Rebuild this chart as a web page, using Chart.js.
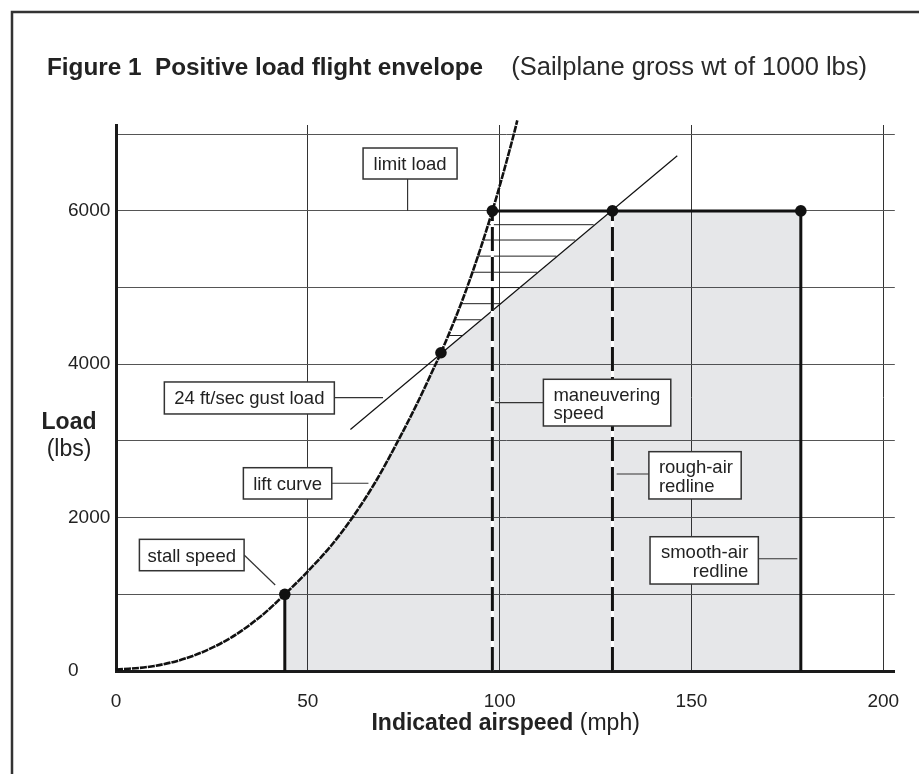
<!DOCTYPE html>
<html><head><meta charset="utf-8">
<script src="https://cdn.jsdelivr.net/npm/chart.js@4.4.1/dist/chart.umd.min.js"></script>
<style>html,body{margin:0;padding:0;background:#fff;}canvas{display:block;}</style>
</head><body>
<canvas id="c" width="919" height="774"></canvas>
<script>
// ---------------- data ----------------
const xGridValues = [0, 50, 100, 150, 200];
const xTickLabels = [0, 50, 100, 150, 200];
const yGridValues = [0, 1000, 2000, 3000, 4000, 5000, 6000, 7000];
const yTickLabels = [0, 2000, 4000, 6000];

// lift curve (mph, lbs)
const liftSpeed = [0, 10, 20, 30, 38, 44, 50, 56, 61.6, 67.5, 73.5, 78.6, 83.3, 84.7, 91.5, 98.1, 103.7, 104.6];
const liftLoad  = [16, 66, 196, 436, 724, 1000, 1300, 1630, 2000, 2455, 3000, 3500, 4000, 4150, 5000, 6000, 7000, 7180];

// 24 ft/sec gust load line
const gustSpeed = [61.1, 146.3];
const gustLoad  = [3150, 6720];

// key points: stall, gust/lift intersection, maneuvering, rough-air redline, smooth-air redline
const keySpeed = [44, 84.7, 98.1, 129.4, 178.5];
const keyLoad  = [1000, 4150, 6000, 6000, 6000];

// hatch lines between lift curve and gust line
const hatchLoad = [4375, 4580, 4790, 5000, 5200, 5410, 5620, 5820];
const hatchFrom = [86.5, 88.1, 89.8, 91.4, 92.8, 94.2, 95.6, 96.9];
const hatchTo   = [90.3, 95.1, 100.1, 105.1, 109.8, 114.8, 119.7, 124.5];

// ---------------- build datasets ----------------
const FONT = '"Liberation Sans", Arial, Helvetica, sans-serif';
const pts = (xs, ys) => xs.map((x, i) => ({x, y: ys[i]}));
const [stallV, gustV, manV, roughV, smoothV] = keySpeed;
const [stallL, gustL, manL, roughL, smoothL] = keyLoad;

const liftPts = pts(liftSpeed, liftLoad);
const envelope = liftPts.filter(p => p.x >= stallV && p.x <= gustV)
  .concat([{x: roughV, y: roughL}, {x: smoothV, y: smoothL}]);

const FILL = 'rgba(47,55,72,0.12)';
const datasets = [];
datasets.push({data: envelope, showLine: true, borderWidth: 0, borderColor: 'rgba(0,0,0,0)', pointRadius: 0, fill: 'origin', backgroundColor: FILL, tension: 0, order: 20});
hatchLoad.forEach((y, i) => datasets.push({data: [{x: hatchFrom[i], y}, {x: hatchTo[i], y}], showLine: true, borderColor: '#222', borderWidth: 1, pointRadius: 0, order: 15}));
datasets.push({data: pts(gustSpeed, gustLoad), showLine: true, borderColor: '#111', borderWidth: 1.2, pointRadius: 0, order: 14});
// white under the dashed lines
[manV, roughV].forEach(v => datasets.push({data: [{x: v, y: 0}, {x: v, y: manL}], showLine: true, borderColor: '#fff', borderWidth: 3, pointRadius: 0, order: 12}));
[manV, roughV].forEach(v => datasets.push({data: [{x: v, y: 0}, {x: v, y: manL}], showLine: true, borderColor: '#111', borderWidth: 3, borderDash: [24, 6], borderCapStyle: 'butt', pointRadius: 0, order: 11}));
datasets.push({data: [{x: stallV, y: 0}, {x: stallV, y: stallL}], showLine: true, borderColor: '#111', borderWidth: 3, pointRadius: 0, order: 10});
datasets.push({data: [{x: smoothV, y: 0}, {x: smoothV, y: smoothL}], showLine: true, borderColor: '#111', borderWidth: 3, pointRadius: 0, order: 10});
datasets.push({data: [{x: manV, y: manL}, {x: smoothV, y: smoothL}], showLine: true, borderColor: '#111', borderWidth: 3, pointRadius: 0, order: 10});
datasets.push({data: liftPts, showLine: true, borderColor: '#111', borderWidth: 2.6, borderDash: [7, 1], pointRadius: 0, cubicInterpolationMode: 'monotone', clip: 6, order: 5});
datasets.push({data: pts(keySpeed, keyLoad), showLine: false, pointRadius: 5.8, pointBackgroundColor: '#111', pointBorderColor: '#111', pointBorderWidth: 0, order: 1});

// ---------------- annotation boxes (anchored in data units) ----------------
const notes = [
  {lines: ['limit load'], x: 64.4, y: 6820, w: 94, h: 31, align: 'center', leader: [[76, 6416], [76, 6000]]},
  {lines: ['24 ft/sec gust load'], x: 12.6, y: 3769, w: 170, h: 32, align: 'center', leader: [[56.8, 3566], [69.6, 3566]]},
  {lines: ['lift curve'], x: 33.2, y: 2651, w: 88.4, h: 31.3, align: 'center', leader: [[56.25, 2448], [65.8, 2448]]},
  {lines: ['stall speed'], x: 6.1, y: 1717, w: 104.7, h: 31.4, align: 'center', leader: [[33.4, 1513], [41.5, 1121]]},
  {lines: ['maneuvering', 'speed'], x: 111.4, y: 3804, w: 127.4, h: 46.7, align: 'left', leader: [[98.8, 3499], [111.4, 3499]]},
  {lines: ['rough-air', 'redline'], x: 138.9, y: 2860, w: 92.3, h: 47.3, align: 'left', leader: [[130.5, 2569], [138.9, 2569]]},
  {lines: ['smooth-air', 'redline'], x: 139.2, y: 1751, w: 108.3, h: 47.3, align: 'right', leader: [[167.3, 1464], [177.6, 1464]]}
];

const decor = {
  id: 'decor',
  beforeDraw(chart) {
    const ctx = chart.ctx;
    ctx.save();
    ctx.fillStyle = '#fff';
    ctx.fillRect(0, 0, chart.width, chart.height);
    ctx.strokeStyle = '#333';
    ctx.lineWidth = 2.5;
    ctx.beginPath();
    ctx.moveTo(12, chart.height);
    ctx.lineTo(12, 12);
    ctx.lineTo(chart.width, 12);
    ctx.stroke();
    ctx.restore();
  },
  afterDraw(chart) {
    const ctx = chart.ctx, xs = chart.scales.x, ys = chart.scales.y;
    ctx.save();
    ctx.fillStyle = '#222';
    ctx.textBaseline = 'alphabetic';
    ctx.textAlign = 'left';
    // main title
    ctx.font = 'bold 24.3px ' + FONT;
    ctx.fillText('Figure 1  Positive load flight envelope', 47, 75);
    ctx.font = '25.5px ' + FONT;
    const sub = '(Sailplane gross wt of 1000 lbs)';
    ctx.fillStyle = '#2a2a2a';
    ctx.fillText(sub, 867 - ctx.measureText(sub).width, 75);
    ctx.fillStyle = '#222';
    // x axis title
    ctx.font = 'bold 23px ' + FONT;
    const xb = 'Indicated airspeed';
    const wb = ctx.measureText(xb).width;
    ctx.font = '23px ' + FONT;
    const xr = ' (mph)';
    const wr = ctx.measureText(xr).width;
    const cx = (xs.left + xs.getPixelForValue(200)) / 2 + 6;
    const sx = cx - (wb + wr) / 2;
    ctx.font = 'bold 23px ' + FONT;
    ctx.fillText(xb, sx, 729.5);
    ctx.font = '23px ' + FONT;
    ctx.fillText(xr, sx + wb, 729.5);
    // y axis title
    ctx.textAlign = 'center';
    ctx.font = 'bold 23px ' + FONT;
    ctx.fillText('Load', 69, 429);
    ctx.font = '23px ' + FONT;
    ctx.fillText('(lbs)', 69, 456);
    // annotations
    ctx.lineWidth = 1.2;
    ctx.strokeStyle = '#333';
    notes.forEach(n => {
      const [[a, b], [c, d]] = n.leader;
      ctx.beginPath();
      ctx.moveTo(xs.getPixelForValue(a), ys.getPixelForValue(b));
      ctx.lineTo(xs.getPixelForValue(c), ys.getPixelForValue(d));
      ctx.stroke();
    });
    ctx.font = '18.5px ' + FONT;
    notes.forEach(n => {
      const L = xs.getPixelForValue(n.x), T = ys.getPixelForValue(n.y);
      ctx.fillStyle = '#fff';
      ctx.fillRect(L, T, n.w, n.h);
      ctx.lineWidth = 1.5;
      ctx.strokeStyle = '#333';
      ctx.strokeRect(L, T, n.w, n.h);
      ctx.fillStyle = '#222';
      ctx.textAlign = n.align;
      const tx = n.align === 'center' ? L + n.w / 2 : (n.align === 'left' ? L + 10 : L + n.w - 10);
      if (n.lines.length === 1) {
        ctx.fillText(n.lines[0], tx, T + n.h / 2 + 6.5);
      } else {
        ctx.fillText(n.lines[0], tx, T + 21.5);
        ctx.fillText(n.lines[1], tx, T + 40);
      }
    });
    ctx.restore();
  }
};

const showTick = list => v => list.some(t => Math.abs(t - Number(v)) < 0.5) ? String(Math.round(Number(v))) : '';
const setTicks = list => s => { s.ticks = list.map(value => ({value})); };

new Chart(document.getElementById('c'), {
  type: 'scatter',
  data: {datasets},
  options: {
    responsive: false,
    animation: false,
    devicePixelRatio: 1,
    events: [],
    layout: {padding: {left: 68, top: 125, right: 23.8, bottom: 0}},
    plugins: {legend: {display: false}, tooltip: {enabled: false}, title: {display: false}},
    scales: {
      x: {
        type: 'linear', min: 0, max: 203,
        afterBuildTicks: setTicks(xGridValues),
        afterFit: s => { s.height = 103; },
        grid: {color: '#333', lineWidth: 1, drawTicks: false},
        border: {display: true, color: '#1a1a1a', width: 3},
        ticks: {autoSkip: false, maxRotation: 0, padding: 19.5, color: '#222', font: {family: FONT, size: 19},
          callback: showTick(xTickLabels)}
      },
      y: {
        type: 'linear', min: 0, max: 7120,
        afterBuildTicks: setTicks(yGridValues),
        afterFit: s => { s.width = 48; },
        grid: {color: '#555', lineWidth: 1, drawTicks: false},
        border: {display: true, color: '#1a1a1a', width: 3},
        ticks: {autoSkip: false, crossAlign: 'far', padding: 0, color: '#222', font: {family: FONT, size: 19},
          callback: showTick(yTickLabels)}
      }
    }
  },
  plugins: [decor]
});
</script>
</body></html>
